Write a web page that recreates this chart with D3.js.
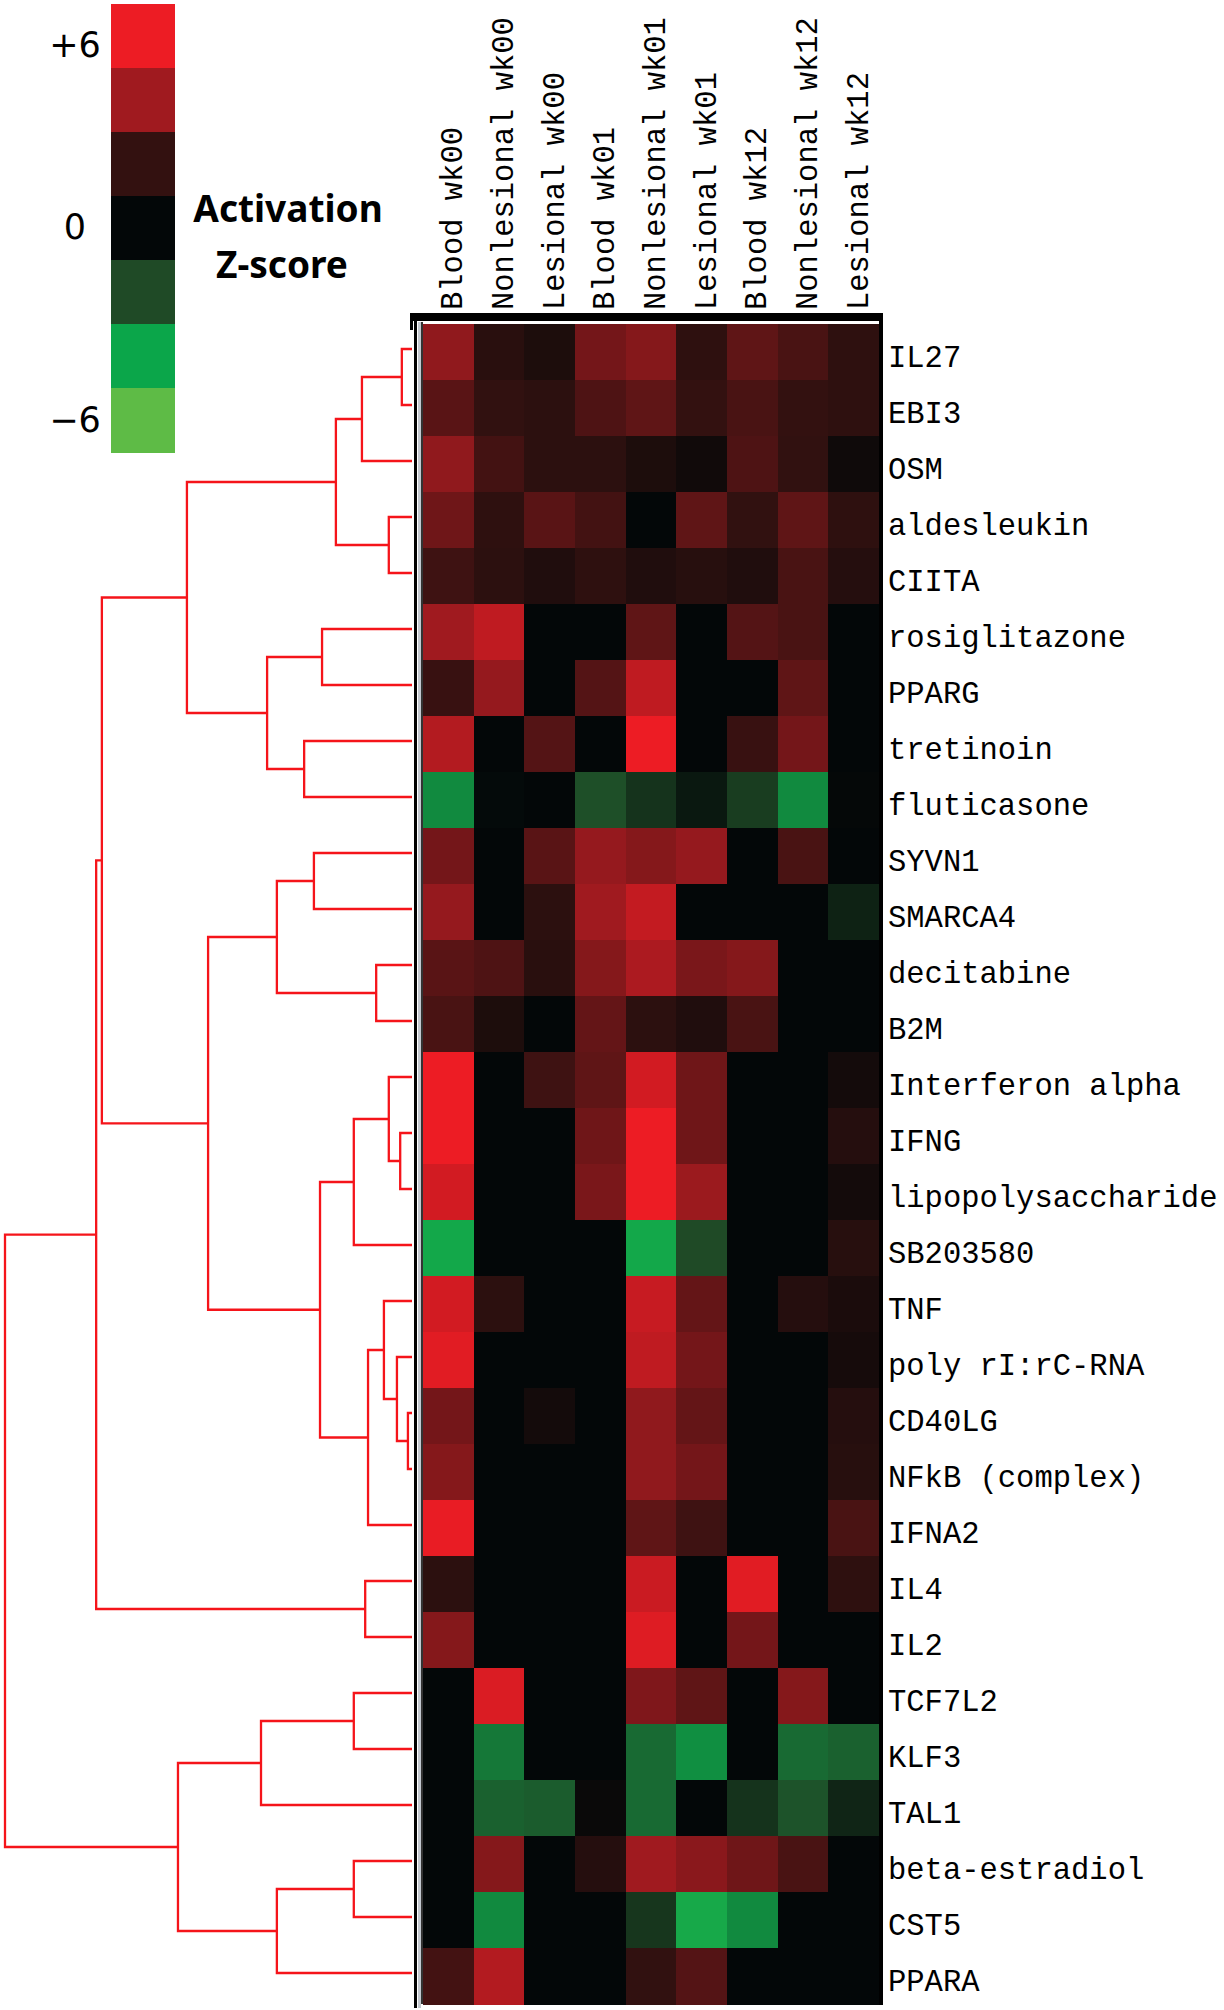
<!DOCTYPE html>
<html><head><meta charset="utf-8">
<script src="https://cdn.jsdelivr.net/npm/d3@7"></script>
<style>body{margin:0;background:#fff} svg{display:block}</style>
</head><body>
<svg id="chart" width="1224" height="2010"></svg>
<script>
// ---------- DATA ----------
const rowLabels = ["IL27","EBI3","OSM","aldesleukin","CIITA","rosiglitazone","PPARG","tretinoin",
  "fluticasone","SYVN1","SMARCA4","decitabine","B2M","Interferon alpha","IFNG","lipopolysaccharide",
  "SB203580","TNF","poly rI:rC-RNA","CD40LG","NFkB (complex)","IFNA2","IL4","IL2","TCF7L2","KLF3",
  "TAL1","beta-estradiol","CST5","PPARA"];
const colLabels = ["Blood wk00","Nonlesional wk00","Lesional wk00","Blood wk01","Nonlesional wk01",
  "Lesional wk01","Blood wk12","Nonlesional wk12","Lesional wk12"];

// activation z-scores, one array per sample column (rows in rowLabels order)
const bloodWk00       = [3.7,2.7,3.7,3.1,2.2,4.0,2.1,4.5,-3.4,3.2,3.8,2.7,2.4,6.0,6.0,5.3,-4.2,5.3,5.7,3.2,3.5,5.9,1.7,3.5,0,0,0,0,0,2.3];
const nonlesionalWk00 = [1.6,1.9,2.3,1.8,1.7,4.8,3.8,0,-0.1,0,0,2.5,1.1,0,0,0,0,1.7,0,0,0,0,0,0,5.5,-3.0,-2.5,3.5,-3.4,4.5];
const lesionalWk00    = [1.1,1.7,1.7,2.7,1.2,0,0,2.6,0,2.7,1.7,1.6,0,2.2,0,0,0,0,0,0.7,0,0,0,0,0,0,-2.4,0,0,0];
const bloodWk01       = [3.2,2.5,1.7,2.3,1.8,0,2.6,0,-2.1,3.8,4.0,3.5,2.9,2.8,3.1,3.3,0,0,0,0,0,0,0,0,0,0,0.3,1.4,0,0];
const nonlesionalWk01 = [3.5,2.8,1.1,0,1.2,2.8,4.8,6.0,-1.3,3.5,4.9,4.3,1.7,5.3,6.0,6.0,-4.2,5.0,4.8,3.7,3.7,2.8,5.1,5.6,3.4,-2.7,-2.7,4.0,-1.4,1.9];
const lesionalWk01    = [1.8,2.0,0.6,2.8,1.5,0,0,0,-0.5,3.8,0,3.3,1.2,3.1,3.1,3.9,-2.0,2.9,3.2,2.9,3.2,2.2,0,0,2.8,-3.5,0,3.6,-4.3,2.6];
const bloodWk12       = [2.8,2.4,2.5,1.9,1.2,2.6,0,2.1,-1.6,0,0,3.5,2.4,0,0,0,0,0,0,0,0,0,5.7,3.2,0,0,-1.3,3.1,-3.4,0];
const nonlesionalWk12 = [2.4,2.0,1.9,2.8,2.4,2.4,2.8,3.2,-3.4,2.4,0,0,0,0,0,0,0,1.4,0,0,0,0,0,0,3.5,-2.7,-2.2,2.4,0,0];
const lesionalWk12    = [1.8,1.8,0.5,1.8,1.4,0,0,0,0.1,0,-0.8,0,0,0.7,1.4,0.7,1.5,1.0,0.8,1.4,1.5,2.4,1.8,0,0,-2.5,-0.9,0,0,0];
const columnSeries = [bloodWk00,nonlesionalWk00,lesionalWk00,bloodWk01,nonlesionalWk01,
  lesionalWk01,bloodWk12,nonlesionalWk12,lesionalWk12];

// colour legend
const legendSteps = [6,4,2,0,-2,-4,-6];
const legendTicks = [6,0,-6];
const legendTickLabels = ["+6","0","\u22126"];
const zDomain = [-6,-4,-2,0,2,4,6];
const zColors = ["#5EBB46","#0BA64A","#1F4A26","#030708","#331110","#A01A1F","#ED1C24"];

// hierarchical clustering of rows: [childA, childB, height]; leaves 0..29, merge k -> id 30+k
const linkage = [
  [0,1,0.025],[30,2,0.123],[3,4,0.057],[31,32,0.187],[5,6,0.221],[7,8,0.265],[34,35,0.356],
  [33,36,0.553],[9,10,0.241],[11,12,0.088],[38,39,0.332],[14,15,0.029],[13,41,0.057],
  [42,16,0.143],[19,20,0.010],[18,44,0.037],[17,45,0.069],[46,21,0.108],[43,47,0.226],
  [40,48,0.501],[37,49,0.762],[22,23,0.115],[50,51,0.776],[24,25,0.143],[53,26,0.371],
  [27,28,0.143],[55,29,0.332],[54,56,0.575],[52,57,1.0]
];

// ---------- DRAW ----------
const svg = d3.select("#chart");
svg.append("rect").attr("width",1224).attr("height",2010).attr("fill","#fff");

const x = d3.scaleBand().domain(colLabels).range([423, 879]);
const y = d3.scaleBand().domain(rowLabels).range([324, 2004]);
const color = d3.scaleLinear().domain(zDomain).range(zColors).clamp(true);
const dx = d3.scaleLinear().domain([0, 1]).range([412, 5]);

// heatmap cells
const cells = [];
columnSeries.forEach((ser, j) => ser.forEach((v, i) => cells.push({c: colLabels[j], r: rowLabels[i], v})));
svg.append("g").attr("shape-rendering","crispEdges")
  .selectAll("rect").data(cells).join("rect")
  .attr("x", d => x(d.c)).attr("y", d => y(d.r))
  .attr("width", x.bandwidth() + 0.5).attr("height", y.bandwidth() + 0.5)
  .attr("fill", d => color(d.v));

// frame
const frame = svg.append("g").attr("shape-rendering","crispEdges");
frame.append("rect").attr("x",410).attr("y",313).attr("width",473).attr("height",8).attr("fill","#000");
frame.append("rect").attr("x",410).attr("y",313).attr("width",3).attr("height",17).attr("fill","#000");
frame.append("rect").attr("x",414).attr("y",313).attr("width",3).attr("height",1695).attr("fill","#000");
frame.append("rect").attr("x",418).attr("y",322).attr("width",3).attr("height",1686).attr("fill","#c3c8cf");
frame.append("rect").attr("x",421).attr("y",322).attr("width",1.5).attr("height",1682).attr("fill","#333");
frame.append("rect").attr("x",879).attr("y",313).attr("width",4).attr("height",1692).attr("fill","#000");

// column labels
svg.append("g").selectAll("text").data(colLabels).join("text")
  .attr("transform", d => `translate(${x(d) + x.bandwidth()/2 + 14},310) rotate(-90)`)
  .attr("font-family","'Liberation Mono', 'DejaVu Sans Mono', monospace")
  .attr("font-size", 30.5).attr("fill","#000")
  .text(d => d);

// row labels
svg.append("g").selectAll("text").data(rowLabels).join("text")
  .attr("x", 888).attr("y", d => y(d) + y.bandwidth()/2 + 15)
  .attr("font-family","'Liberation Mono', 'DejaVu Sans Mono', monospace")
  .attr("font-size", 30.5).attr("fill","#000")
  .attr("xml:space","preserve").style("white-space","pre")
  .text(d => d);

// dendrogram
const nodes = rowLabels.map(r => ({x: dx(0), y: y(r) + y.bandwidth()/2 - 3}));
const paths = [];
linkage.forEach(([a, b, h]) => {
  const A = nodes[a], B = nodes[b];
  const n = {x: dx(h), y: (A.y + B.y) / 2};
  nodes.push(n);
  paths.push(`M${A.x},${A.y}H${n.x}V${B.y}H${B.x}`);
});
svg.append("g").selectAll("path").data(paths).join("path")
  .attr("d", d => d).attr("fill","none")
  .attr("stroke","#f5141a").attr("stroke-width",2.3);

// legend
const ly = d3.scaleBand().domain(legendSteps).range([4, 452]);
svg.append("g").attr("shape-rendering","crispEdges")
  .selectAll("rect").data(legendSteps).join("rect")
  .attr("x",111).attr("y", d => ly(d)).attr("width",64).attr("height", ly.bandwidth() + 0.5)
  .attr("fill", d => color(d));
const tickY = d3.scaleLinear().domain([-6, 0, 6]).range([419, 226.5, 44.5]);
svg.append("g").selectAll("text").data(legendTicks).join("text")
  .attr("x", 75).attr("y", d => tickY(d) + 12.5)
  .attr("text-anchor","middle")
  .attr("font-family","'DejaVu Sans', sans-serif").attr("font-size",35).attr("fill","#000")
  .text((d, i) => legendTickLabels[i]);

svg.append("text").attr("x",288).attr("y",222).attr("text-anchor","middle")
  .attr("font-family","'Noto Sans', sans-serif").attr("font-weight","bold").attr("font-size",37)
  .text("Activation");
svg.append("text").attr("x",282).attr("y",278).attr("text-anchor","middle")
  .attr("font-family","'Noto Sans', sans-serif").attr("font-weight","bold").attr("font-size",37)
  .text("Z-score");
</script>
</body></html>
